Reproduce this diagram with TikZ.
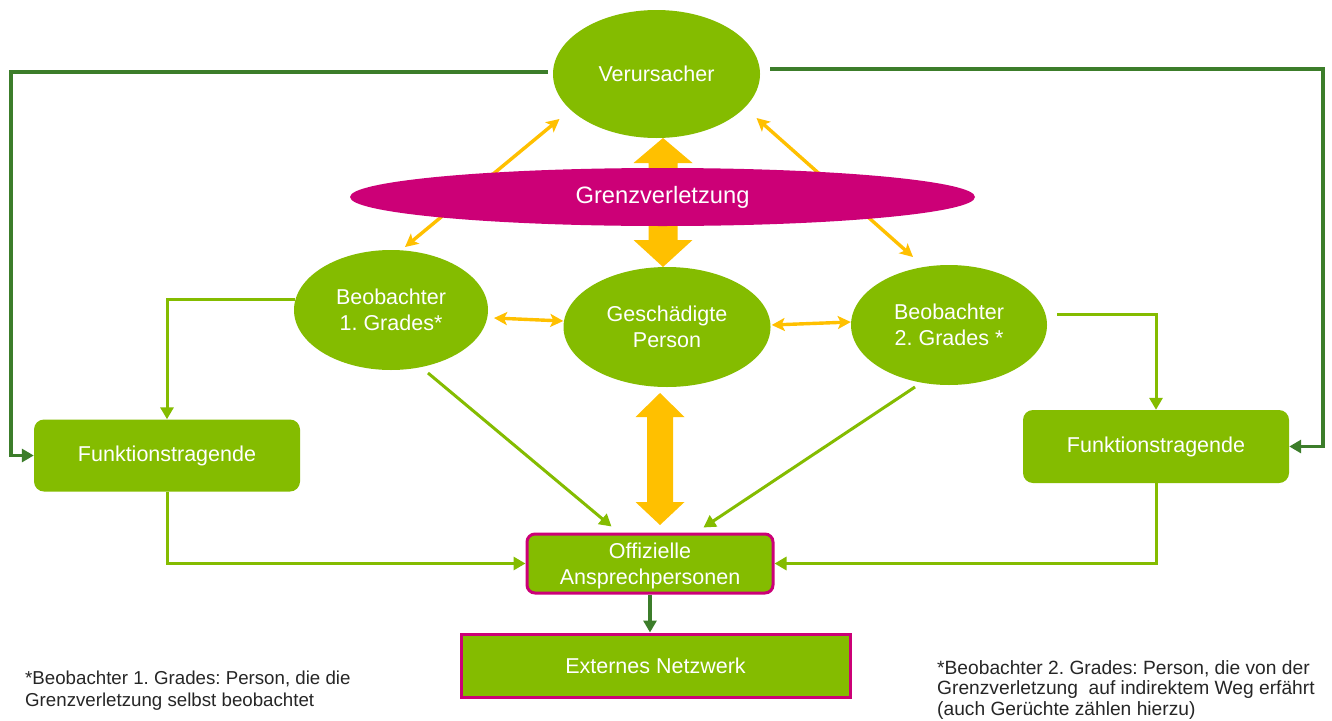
\documentclass[tikz,border=0pt]{standalone}
\usepackage{fontspec}
\setmainfont{Liberation Sans}
\usetikzlibrary{shapes.geometric,arrows.meta,calc}
\definecolor{lg}{HTML}{84BC00}
\definecolor{dg}{HTML}{3C7D2A}
\definecolor{mg}{HTML}{CC0077}
\definecolor{yl}{HTML}{FFC000}
\definecolor{tx}{HTML}{262626}
\pgfdeclarelayer{bg}\pgfsetlayers{bg,main}
\frenchspacing
\begin{document}
\begin{tikzpicture}[x=1pt,y=-1pt,
  ell/.style={ellipse,fill=lg,draw=none,inner sep=0pt,text=white,align=center,
    font=\fontsize{21.5}{26.5}\selectfont},
  gbox/.style={rectangle,fill=lg,draw=none,rounded corners=10pt,inner sep=0pt,text=white,
    align=center,font=\fontsize{21.5}{26.5}\selectfont},
  obox/.style={rectangle,fill=lg,draw=mg,line width=3pt,rounded corners=8pt,inner sep=0pt,
    text=white,align=center,font=\fontsize{21.5}{26}\selectfont},
  ebox/.style={rectangle,fill=lg,draw=mg,line width=3pt,inner sep=0pt,
    text=white,align=center,font=\fontsize{21.5}{26}\selectfont},
  note/.style={inner sep=0pt,text=tx,align=left},
  lgarrow/.style={draw=lg,line width=3pt,-{Triangle[length=12pt,width=13pt]}},
  dgarrow/.style={draw=dg,line width=3.4pt,-{Triangle[length=12pt,width=13pt]}},
  ylarrow/.style={draw=yl,line width=3.4pt,{Stealth[length=13pt,width=13pt,inset=3pt]}-{Stealth[length=13pt,width=13pt,inset=3pt]}},
  bigarrow/.style={fill=yl,draw=none}]
\useasboundingbox (0,0) rectangle (1332,720);

% nodes
\node[ell,minimum width=207pt,minimum height=128pt] (ver) at (656.5,74) {Verursacher};
\node[ellipse,fill=mg,draw=none,inner sep=0pt,text=white,minimum width=625pt,minimum height=58pt,
  font=\fontsize{23.7}{26}\selectfont] (gv) at (662.5,197) {Grenzverletzung};
\node[ell,minimum width=194pt,minimum height=120pt] (b1) at (391,310) {Beobachter\\1. Grades*};
\node[ell,minimum width=207pt,minimum height=120pt] (gp) at (667,327) {Geschädigte\\Person};
\node[ell,minimum width=196pt,minimum height=120pt] (b2) at (949,325) {Beobachter\\2. Grades *};
\node[gbox,minimum width=266pt,minimum height=72pt] (f1) at (167,455.5) {Funktionstragende};
\node[gbox,minimum width=266pt,minimum height=73pt] (f2) at (1156,446.5) {Funktionstragende};
\node[obox,minimum width=246pt,minimum height=59pt] (oa) at (650,563.5)
  {\raisebox{-3pt}[\height][\depth]{\begin{tabular}{@{}c@{}}Offizielle\\Ansprechpersonen\end{tabular}}};
\node[ebox,minimum width=389pt,minimum height=63pt] (en) at (655.5,665.5) {Externes Netzwerk};

\node[note,anchor=north west,font=\fontsize{18.7}{21.5}\selectfont] (n1) at (25,671) {*Beobachter 1. Grades: Person, die die\\Grenzverletzung selbst beobachtet};
\node[note,anchor=north west,font=\fontsize{19.2}{20.8}\selectfont] (n2) at (937,660) {*Beobachter 2. Grades: Person, die von der\\Grenzverletzung\ \ auf indirektem Weg erfährt\\(auch Gerüchte zählen hierzu)};

\coordinate (lc) at (11,72);
\coordinate (rc) at (1323,69);

\begin{pgfonlayer}{bg}
  \fill[white] (0,0) rectangle (1332,720);
  % big yellow double arrows
  \path[bigarrow] (663,138) -- (692.5,163) -- (677.5,163) -- (677.5,240) -- (692.5,240)
    -- (663,267) -- (633.5,240) -- (648.5,240) -- (648.5,163) -- (633.5,163) -- cycle;
  \path[bigarrow] (660,393) -- (684.5,417) -- (673,417) -- (673,502) -- (684.5,502)
    -- (660,525) -- (635.5,502) -- (647,502) -- (647,417) -- (635.5,417) -- cycle;
  % small yellow arrows
  \draw[ylarrow] ($(b1.center)+(14,-63)$) -- ($(ver.center)+(-97,45)$);
  \draw[ylarrow] ($(ver.center)+(100,44)$) -- ($(b2.center)+(-36,-68)$);
  \draw[ylarrow] ($(b1.center)+(103,8)$) -- ($(gp.west)+(0,-6)$);
  \draw[ylarrow] ($(gp.east)+(1,-2)$) -- ($(b2.west)+(0,-3)$);
  % dark green loops
  \draw[dgarrow] ($(ver.west)+(-5,-2)$) -- (lc) |- (f1.west);
  \draw[dgarrow] ($(ver.east)+(10,-5)$) -- (rc) |- (f2.east);
  \draw[dgarrow] (oa.south) -- (oa.south |- en.north);
  % light green connectors
  \draw[lgarrow] (b1.174) -| (f1.north);
  \draw[lgarrow] ($(b2.east)+(10,-11)$) -| (f2.north);
  \draw[lgarrow] (f1.south) |- (oa.west);
  \draw[lgarrow] (f2.south) |- (oa.east);
  \draw[lgarrow] ($(b1.center)+(37,63)$) -- ($(oa.north west)+(86,-6)$);
  \draw[lgarrow] ($(b2.center)+(-34,62)$) -- ($(oa.north east)+(-71,-5)$);
\end{pgfonlayer}
\end{tikzpicture}
\end{document}
